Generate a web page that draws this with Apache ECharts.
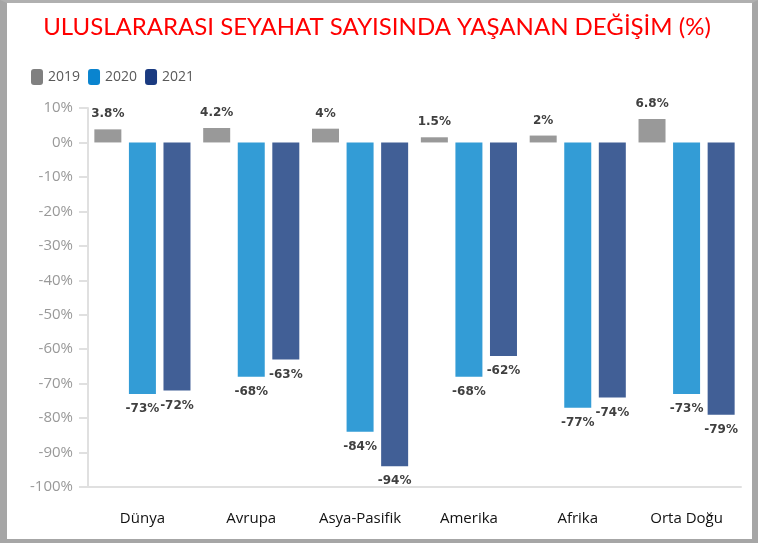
<!DOCTYPE html>
<html>
<head>
<meta charset="utf-8">
<script src="https://cdn.jsdelivr.net/npm/echarts@6/dist/echarts.min.js"></script>
<style>
  html, body { margin: 0; padding: 0; background: #fff; }
  #chart { width: 758px; height: 543px; }
  #frame {
    position: absolute; left: 0; top: 0; width: 758px; height: 543px;
    box-sizing: border-box; pointer-events: none;
    border-left: 7px solid #a6a6a6; border-top: 3px solid #b0b0b0;
    border-right: 6px solid #a6a6a6; border-bottom: 4px solid #a6a6a6;
  }
</style>
</head>
<body>
<div id="chart"></div>
<div id="frame"></div>
<script>
const categories = ["Dünya", "Avrupa", "Asya-Pasifik", "Amerika", "Afrika", "Orta Doğu"];
const years = ["2019", "2020", "2021"];
const values2019 = [3.8, 4.2, 4, 1.5, 2, 6.8];
const values2020 = [-73, -68, -84, -68, -77, -73];
const values2021 = [-72, -63, -94, -62, -74, -79];

const barColors = ["#999999", "#339cd6", "#415f96"];
const legendColors = ["#808080", "#0a84cf", "#1a3a80"];

const chart = echarts.init(document.getElementById("chart"));

const labelStyle = {
  show: true,
  fontFamily: "DejaVu Sans",
  fontWeight: "bold",
  fontSize: 12,
  color: "#404040",
  formatter: (p) => p.value + "%",
};

function makeSeries(name, data, color, pos) {
  return {
    name: name,
    type: "bar",
    data: data,
    barWidth: 27,
    barGap: "28%",
    itemStyle: { color: color },
    label: Object.assign({}, labelStyle, { position: pos, distance: 9 }),
  };
}

const options = {
  animation: false,
  title: {
    text: "ULUSLARARASI SEYAHAT SAYISINDA YAŞANAN DEĞİŞİM (%)",
    left: 372,
    textAlign: "center",
    top: 10,
    textStyle: { color: "#ff0000", fontFamily: "Lato", fontWeight: "normal", fontSize: 24 },
  },
  legend: {
    left: 26,
    top: 64,
    itemWidth: 12,
    itemHeight: 16,
    itemGap: 8,
    icon: "roundRect",
    textStyle: { color: "#595959", fontFamily: "Open Sans", fontSize: 14 },
    data: years.map((y, i) => ({ name: y, itemStyle: { color: legendColors[i] } })),
  },
  grid: { left: 88, right: 17, top: 108, bottom: 56, containLabel: false },
  xAxis: {
    type: "category",
    data: categories,
    axisLine: { onZero: false, lineStyle: { color: "#e0e0e0", width: 2 } },
    axisTick: { alignWithLabel: true, length: 8, lineStyle: { color: "#e0e0e0", width: 2 } },
    axisLabel: { margin: 24, color: "#111111", fontFamily: "Open Sans", fontSize: 15 },
  },
  yAxis: {
    type: "value",
    min: -100,
    max: 10,
    interval: 10,
    splitLine: { show: false },
    axisLine: { show: true, lineStyle: { color: "#e0e0e0", width: 2 } },
    axisTick: { show: true, length: 9, lineStyle: { color: "#e0e0e0", width: 2 } },
    axisLabel: {
      margin: 15,
      color: "#999999",
      fontFamily: "Open Sans",
      fontSize: 15,
      formatter: (v) => v + "%",
    },
  },
  series: [
    makeSeries(years[0], values2019, barColors[0], "top"),
    makeSeries(years[1], values2020, barColors[1], "bottom"),
    makeSeries(years[2], values2021, barColors[2], "bottom"),
  ],
};

chart.setOption(options);
</script>
</body>
</html>
